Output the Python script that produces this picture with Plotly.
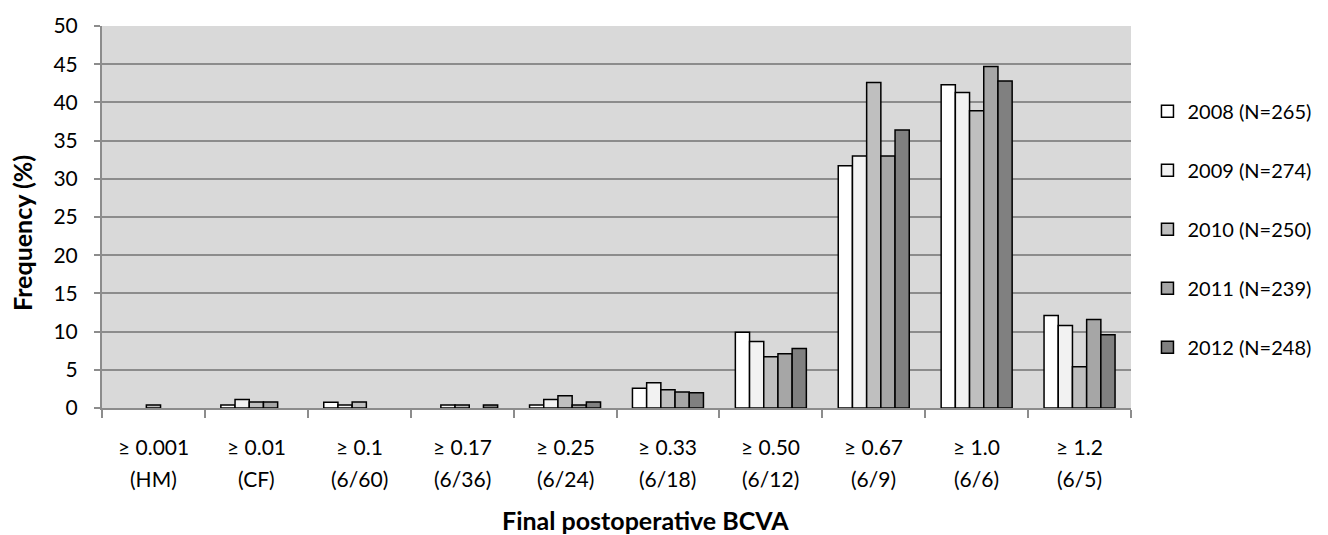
import plotly.graph_objects as go

level = ["≥ 0.001", "≥ 0.01", "≥ 0.1", "≥ 0.17", "≥ 0.25", "≥ 0.33", "≥ 0.50", "≥ 0.67", "≥ 1.0", "≥ 1.2"]
snellen = ["(HM)", "(CF)", "(6/60)", "(6/36)", "(6/24)", "(6/18)", "(6/12)", "(6/9)", "(6/6)", "(6/5)"]
categories = [f"{a} {b}" for a, b in zip(level, snellen)]

series_names = ["2008 (N=265)", "2009 (N=274)", "2010 (N=250)", "2011 (N=239)", "2012 (N=248)"]
v2008 = [0, 0.4, 0.75, 0, 0.4, 2.6, 9.9, 31.7, 42.3, 12.1]
v2009 = [0, 1.1, 0.4, 0.4, 1.1, 3.3, 8.7, 33.0, 41.3, 10.8]
v2010 = [0.4, 0.8, 0.8, 0.4, 1.6, 2.4, 6.7, 42.6, 38.9, 5.4]
v2011 = [0, 0.8, 0, 0, 0.4, 2.1, 7.1, 33.0, 44.7, 11.6]
v2012 = [0, 0, 0, 0.4, 0.8, 2.0, 7.8, 36.4, 42.8, 9.6]
series_values = [v2008, v2009, v2010, v2011, v2012]
colors = ["#ffffff", "#f2f2f2", "#bfbfbf", "#a6a6a6", "#808080"]

FONT = "Lato"
fig = go.Figure()
for name, vals, col in zip(series_names, series_values, colors):
    # zero-frequency bars are not drawn in the original chart
    shown = [v if v > 0 else None for v in vals]
    fig.add_trace(go.Bar(
        x=categories, y=shown, name=name, legendgroup=name,
        marker=dict(color=col, line=dict(color="#000000", width=1.5)),
    ))

grid = "#8c8c8c"
fig.update_layout(
    width=1328, height=535,
    margin=dict(l=102, r=191, t=18, b=127),
    paper_bgcolor="white", plot_bgcolor="#d9d9d9",
    barmode="group", bargap=0.31, bargroupgap=0,
    font=dict(family=FONT, size=20, color="#000000"),
    showlegend=True,
    legend=dict(x=1.016, xanchor="left", y=0.828, yanchor="top",
                tracegroupgap=30, font=dict(family=FONT, size=20),
                bgcolor="rgba(0,0,0,0)"),
    xaxis=dict(showticklabels=False, tickson="boundaries", ticks="outside",
               ticklen=8, tickcolor=grid, tickwidth=2,
               showline=True, linecolor=grid, linewidth=2, showgrid=False),
    yaxis=dict(range=[0, 50], dtick=5, tick0=0, ticks="outside", ticklen=6,
               tickcolor=grid, tickwidth=2, showline=True, linecolor=grid,
               linewidth=2, showgrid=True, gridcolor=grid, gridwidth=2,
               zeroline=False, ticklabelstandoff=12,
               tickfont=dict(family=FONT, size=21)),
)

annotations = []
for cat, a, b in zip(categories, level, snellen):
    annotations.append(dict(x=cat, xref="x", y=0, yref="paper", text=a,
                            showarrow=False, yanchor="middle", yshift=-38,
                            font=dict(family=FONT, size=21)))
    annotations.append(dict(x=cat, xref="x", y=0, yref="paper", text=b,
                            showarrow=False, yanchor="middle", yshift=-70,
                            font=dict(family=FONT, size=21)))
annotations.append(dict(x=0.5, xref="paper", y=0, yref="paper",
                        text="<b>Final postoperative BCVA</b>", showarrow=False,
                        xanchor="center", xshift=29,
                        yanchor="middle", yshift=-112,
                        font=dict(family=FONT, size=25)))
annotations.append(dict(x=0, xref="paper", y=0.5, yref="paper",
                        text="<b>Frequency (%)</b>", showarrow=False,
                        textangle=-90, xanchor="center", xshift=-80,
                        yanchor="middle", yshift=-16,
                        font=dict(family=FONT, size=25)))
fig.update_layout(annotations=annotations)

fig.write_html("out.html")
